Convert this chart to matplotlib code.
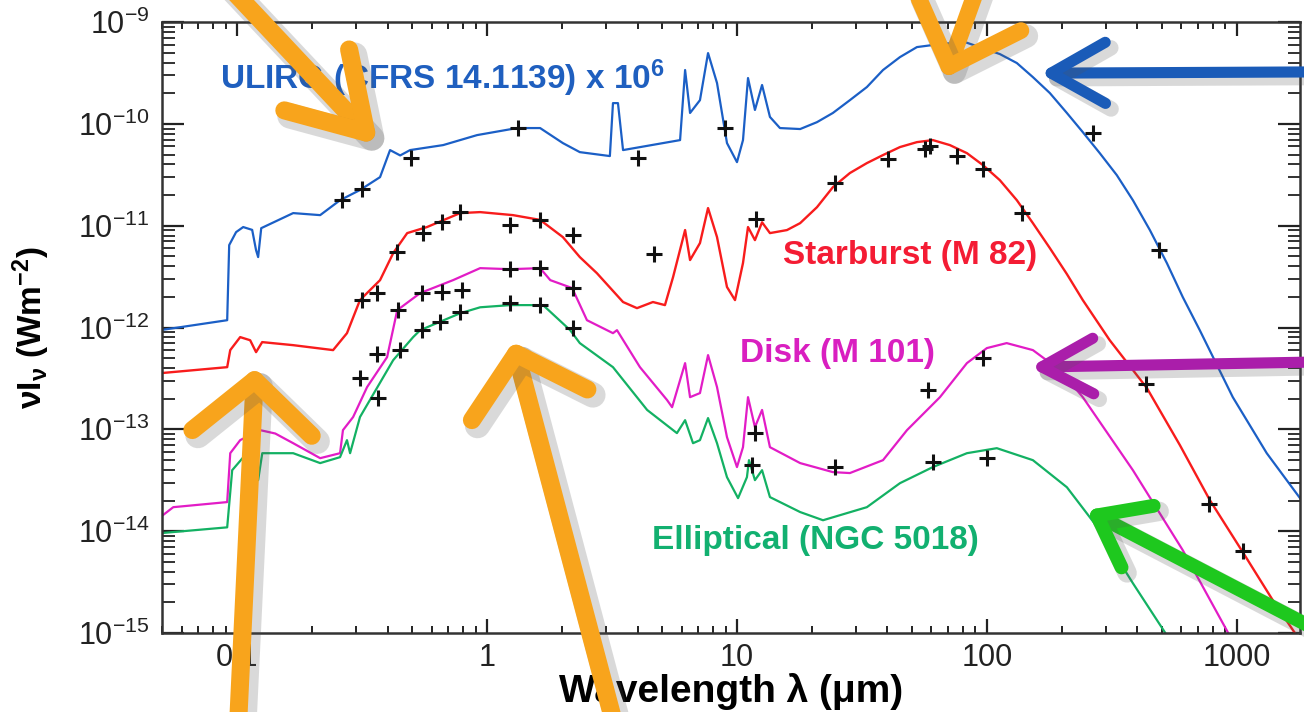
import matplotlib
matplotlib.use("Agg")
import matplotlib.pyplot as plt
import matplotlib.patheffects as pe
from matplotlib.ticker import NullFormatter

plt.rcParams["font.family"] = ["Liberation Sans", "DejaVu Sans"]
plt.rcParams["mathtext.default"] = "regular"

# --- spectra (wavelength in micron, nu*I_nu in W m^-2) ---
ulirg_lam = [0.0492, 0.0912, 0.0929, 0.099, 0.1057, 0.1148, 0.119, 0.1213, 0.1248, 0.1675,
             0.2148, 0.258, 0.31, 0.373, 0.409, 0.449, 0.492, 0.667, 0.912, 1.318,
             1.63, 2.01, 2.35, 3.1, 3.19, 3.34, 3.5, 5.92, 6.2, 6.49,
             7.11, 7.66, 8.32, 9.12, 10.0, 10.57, 11.07, 11.8, 12.6, 13.55,
             14.86, 17.9, 20.9, 24.2, 28.3, 33.1, 38.4, 44.9, 52.5, 64.9,
             81.7, 112.7, 131.8, 152.8, 178.6, 209, 242, 283, 331, 384,
             449, 525, 608, 711, 964, 1318, 1854]
ulirg_flux = [9.42e-13, 1.18e-12, 6.45e-12, 8.65e-12, 9.7e-12, 9.1e-12, 5.75e-12, 4.92e-12, 9.46e-12, 1.33e-11,
              1.27e-11, 1.78e-11, 2.24e-11, 3.0e-11, 5.53e-11, 4.9e-11, 5.53e-11, 6.19e-11, 7.76e-11, 9.1e-11,
              9.1e-11, 6.48e-11, 5.28e-11, 4.83e-11, 1.6e-10, 1.6e-10, 5.53e-11, 6.93e-11, 3.38e-10, 1.28e-10,
              1.71e-10, 4.96e-10, 2.52e-10, 6.48e-11, 4.21e-11, 6.93e-11, 2.82e-10, 1.37e-10, 2.41e-10, 1.17e-10,
              9.1e-11, 8.9e-11, 1.04e-10, 1.28e-10, 1.71e-10, 2.3e-10, 3.38e-10, 4.53e-10, 5.68e-10, 6.08e-10,
              6.36e-10, 4.85e-10, 3.96e-10, 2.88e-10, 2.01e-10, 1.28e-10, 8.3e-11, 5.16e-11, 3.14e-11, 1.78e-11,
              9.06e-12, 4.3e-12, 1.99e-12, 9.42e-13, 2.07e-13, 5.83e-14, 1.88e-14]

m82_lam = [0.0492, 0.0912, 0.0938, 0.1028, 0.1127, 0.119, 0.1259, 0.1675, 0.242, 0.275,
           0.31, 0.373, 0.421, 0.479, 0.575, 0.78, 0.938, 1.27, 1.63, 2.01,
           2.35, 2.75, 3.5, 3.98, 4.61, 5.15, 5.55, 6.2, 6.49, 7.11,
           7.66, 8.32, 9.12, 9.82, 10.57, 11.07, 11.8, 12.6, 13.55, 15.85,
           17.9, 20.9, 24.2, 28.3, 33.1, 38.4, 44.9, 52.5, 60.8, 71.1,
           83.2, 96.4, 112.7, 131.8, 152.8, 178.6, 209, 242, 310, 437,
           592, 780, 1057, 1393, 1786]
m82_flux = [3.56e-13, 4.08e-13, 6.0e-13, 8.05e-13, 7.5e-13, 5.73e-13, 7.19e-13, 6.71e-13, 6.0e-13, 8.8e-13,
            1.86e-12, 2.92e-12, 5.38e-12, 8.46e-12, 9.7e-12, 1.33e-11, 1.36e-11, 1.27e-11, 1.14e-11, 7.73e-12,
            4.92e-12, 3.42e-12, 1.78e-12, 1.55e-12, 1.78e-12, 1.66e-12, 3.13e-12, 9.06e-12, 4.6e-12, 6.75e-12,
            1.49e-11, 7.73e-12, 2.5e-12, 1.86e-12, 4.3e-12, 9.7e-12, 7.22e-12, 1.08e-11, 8.46e-12, 9.06e-12,
            1.06e-11, 1.52e-11, 2.39e-11, 3.29e-11, 4.12e-11, 4.94e-11, 5.92e-11, 6.62e-11, 6.93e-11, 6.19e-11,
            5.16e-11, 3.94e-11, 2.8e-11, 1.78e-11, 1.06e-11, 6.03e-12, 3.35e-12, 1.86e-12, 7.52e-13, 2.54e-13,
            7.0e-14, 2.02e-14, 6.22e-15, 2.1e-15, 8.5e-16]

m101_lam = [0.0492, 0.0555, 0.0912, 0.0938, 0.1028, 0.1236, 0.142, 0.1675, 0.2148, 0.258,
            0.265, 0.291, 0.331, 0.398, 0.437, 0.54, 0.731, 0.938, 1.236, 1.63,
            1.79, 2.19, 2.51, 3.19, 3.31, 4.09, 5.25, 5.5, 6.2, 6.49,
            7.11, 7.66, 8.32, 9.12, 10.0, 10.57, 11.07, 11.8, 12.6, 13.55,
            17.9, 24.2, 28.3, 38.4, 47.9, 64.9, 83.2, 100, 120, 152.8,
            196, 242, 384, 608, 920, 1028]
m101_flux = [1.37e-14, 1.72e-14, 1.93e-14, 5.83e-14, 7.83e-14, 9.82e-14, 9.1e-14, 7.31e-14, 5.21e-14, 5.83e-14,
             9.82e-14, 1.32e-13, 2.6e-13, 5.12e-13, 1.48e-12, 2.18e-12, 2.92e-12, 3.83e-12, 3.74e-12, 3.83e-12,
             2.92e-12, 2.44e-12, 1.18e-12, 8.8e-13, 9.42e-13, 4.08e-13, 1.94e-13, 1.65e-13, 4.47e-13, 2.07e-13,
             2.27e-13, 5.36e-13, 2.6e-13, 8.38e-14, 4.26e-14, 6.68e-14, 2.07e-13, 1.05e-13, 1.55e-13, 6.68e-14,
             4.66e-14, 3.8e-14, 3.72e-14, 4.98e-14, 9.82e-14, 2.07e-13, 4.47e-13, 6.28e-13, 7.03e-13, 6.0e-13,
             3.82e-13, 2.07e-13, 3.97e-14, 6.5e-15, 1.02e-15, 5.4e-16]

ngc5018_lam = [0.0492, 0.0912, 0.0955, 0.1076, 0.1213, 0.126, 0.1675, 0.2148, 0.258, 0.275,
               0.283, 0.31, 0.421, 0.506, 0.54, 0.78, 0.938, 1.236, 1.675, 2.15,
               2.35, 3.19, 4.37, 5.75, 6.2, 6.67, 7.11, 7.66, 8.32, 9.12,
               10.1, 10.96, 11.17, 11.8, 12.6, 13.55, 17.9, 22.1, 33.1, 44.9,
               60.8, 83.2, 109.6, 152.8, 209, 283, 384, 515, 565]
ngc5018_flux = [9.55e-15, 1.09e-14, 3.97e-14, 5.58e-14, 3.17e-14, 5.83e-14, 5.83e-14, 4.66e-14, 5.33e-14, 7.83e-14,
                5.83e-14, 1.32e-13, 4.78e-13, 8.05e-13, 9.42e-13, 1.38e-12, 1.58e-12, 1.66e-12, 1.66e-12, 9.42e-13,
                7.03e-13, 4.08e-13, 1.55e-13, 9.18e-14, 1.23e-13, 7.31e-14, 7.83e-14, 1.29e-13, 7.31e-14, 3.39e-14,
                2.11e-14, 3.39e-14, 4.98e-14, 3.17e-14, 3.97e-14, 2.16e-14, 1.54e-14, 1.28e-14, 1.72e-14, 2.96e-14,
                4.26e-14, 5.83e-14, 6.53e-14, 4.98e-14, 2.7e-14, 1.02e-14, 3.08e-15, 1.02e-15, 6.78e-16]

# photometry (the black crosses)
ulirg_pts_lam = [0.263, 0.316, 0.497, 1.33, 4.02, 8.95, 265, 488]
ulirg_pts_flux = [1.78e-11, 2.29e-11, 4.61e-11, 9.1e-11, 4.61e-11, 9.1e-11, 8.13e-11, 5.75e-12]
m82_pts_lam = [0.316, 0.363, 0.437, 0.555, 0.661, 0.78, 1.236, 1.63, 2.21, 4.66,
               11.9, 24.7, 40.2, 56.5, 59.2, 75.9, 96.4, 138, 432, 773, 1057]
m82_pts_flux = [1.86e-12, 2.18e-12, 5.5e-12, 8.46e-12, 1.08e-11, 1.36e-11, 1.01e-11, 1.14e-11, 8.09e-12, 5.26e-12,
                1.16e-11, 2.62e-11, 4.51e-11, 5.65e-11, 6.05e-11, 4.83e-11, 3.6e-11, 1.33e-11, 2.78e-13, 1.84e-14, 6.37e-15]
m101_pts_lam = [0.31, 0.363, 0.44, 0.55, 0.661, 0.794, 1.236, 1.63, 2.21, 11.8, 24.7, 58.1, 96.4]
m101_pts_flux = [3.18e-13, 5.48e-13, 1.48e-12, 2.18e-12, 2.23e-12, 2.33e-12, 3.74e-12, 3.83e-12, 2.44e-12,
                 9.18e-14, 4.26e-14, 2.43e-13, 5.0e-13]
ngc5018_pts_lam = [0.366, 0.449, 0.55, 0.649, 0.78, 1.236, 1.63, 2.21, 11.5, 60.8, 100]
ngc5018_pts_flux = [2.02e-13, 6.0e-13, 9.42e-13, 1.13e-12, 1.42e-12, 1.74e-12, 1.66e-12, 9.87e-13,
                    4.45e-14, 4.76e-14, 5.21e-14]

xtick_vals = [0.1, 1, 10, 100, 1000]
xtick_labels = ["0.1", "1", "10", "100", "1000"]
ytick_vals = [1e-15, 1e-14, 1e-13, 1e-12, 1e-11, 1e-10, 1e-9]

c_blue = "#1b5fc6"
c_red = "#f81c1c"
c_mag = "#e21cc6"
c_green = "#13b163"

fig = plt.figure(figsize=(13.04, 7.12), dpi=100)
ax = fig.add_axes([0.1242, 0.111, 0.8727, 0.858])
ax.set_xscale("log")
ax.set_yscale("log")

ax.plot(ulirg_lam, ulirg_flux, color=c_blue, lw=1.6)
ax.plot(m82_lam, m82_flux, color=c_red, lw=1.7)
ax.plot(m101_lam, m101_flux, color=c_mag, lw=1.6)
ax.plot(ngc5018_lam, ngc5018_flux, color=c_green, lw=1.6)

for lam, flux in [(ulirg_pts_lam, ulirg_pts_flux), (m82_pts_lam, m82_pts_flux),
                  (m101_pts_lam, m101_pts_flux), (ngc5018_pts_lam, ngc5018_pts_flux)]:
    ax.plot(lam, flux, ls="none", marker="+", ms=11, mew=2.2, color="#111111", zorder=4)

ax.set_xlim(0.05, 1790)
ax.set_ylim(1e-15, 1e-9)

ax.text(0.0855, 2.82e-10, "ULIRG (CFRS 14.1139) x 10$^{6}$", color="#1f5fbf", fontsize=24,
        fontweight="bold", ha="left", va="center")
ax.text(15.3, 5.14e-12, "Starburst (M 82)", color="#f41c34", fontsize=24,
        fontweight="bold", ha="left", va="center")
ax.text(10.3, 5.61e-13, "Disk (M 101)", color="#d91fc0", fontsize=24,
        fontweight="bold", ha="left", va="center")
ax.text(4.57, 8.16e-15, "Elliptical (NGC 5018)", color="#12b070", fontsize=24,
        fontweight="bold", ha="left", va="center")

ax.set_xticks(xtick_vals, labels=xtick_labels)
ax.xaxis.set_minor_formatter(NullFormatter())
ax.set_yticks(ytick_vals)
ax.yaxis.set_minor_formatter(NullFormatter())
ax.tick_params(which="both", direction="in", top=True, right=True, colors="#222222", labelsize=22)
ax.tick_params(axis="x", which="major", length=10, width=1.6, pad=7)
ax.tick_params(axis="x", which="minor", length=5, width=1.4)
ax.tick_params(axis="y", which="major", length=16, width=1.6, pad=9)
ax.tick_params(axis="y", which="minor", length=9, width=1.3)
for s in ax.spines.values():
    s.set_linewidth(1.8)
    s.set_color("#333333")

ax.set_xlabel("Wavelength λ (μm)", fontsize=28, fontweight="bold")
ax.xaxis.set_label_coords(0.5, -0.066)
ax.set_ylabel(r"$\nu I_{\nu}$ (Wm$^{-2}$)", fontsize=24, fontweight="bold")
ax.yaxis.set_label_coords(-0.097, 0.5)


# hand drawn style arrows: tip in data coords, tail in figure fraction
def arrow(tip, tail, color, lw, hl, hw):
    shadow = [pe.Stroke(offset=(4, -4), linewidth=lw * 1.4, foreground="#555555", alpha=0.22),
              pe.Normal()]
    ax.annotate("", xy=tip, xycoords="data", xytext=tail, textcoords="figure fraction",
                annotation_clip=False,
                arrowprops=dict(arrowstyle=f"->,head_length={hl},head_width={hw}",
                                mutation_scale=10, color=color, lw=lw, shrinkA=0, shrinkB=0,
                                capstyle="round", joinstyle="round", clip_on=False,
                                path_effects=shadow), zorder=6)


orange = "#f8a41c"
arrow((0.366, 6.19e-11), (0.175, 1.02), orange, 13, 5.2, 3.2)
arrow((67.9, 2.82e-10), (0.75, 1.02), orange, 12, 4.2, 4.0)
arrow((0.118, 3.99e-13), (0.1825, -0.02), orange, 13, 3.8, 4.3)
arrow((1.27, 7.19e-13), (0.4716, -0.02), orange, 13, 3.8, 4.3)
arrow((163, 3.15e-10), (1.01, 0.899), "#1a5bb8", 8, 3.9, 2.2)
arrow((149, 4.08e-13), (1.01, 0.4916), "#aa1eaa", 8, 3.7, 2.0)
arrow((251, 1.61e-14), (1.01, 0.115), "#1ec81e", 10, 3.3, 2.5)

fig.savefig("out.png", dpi=100)
